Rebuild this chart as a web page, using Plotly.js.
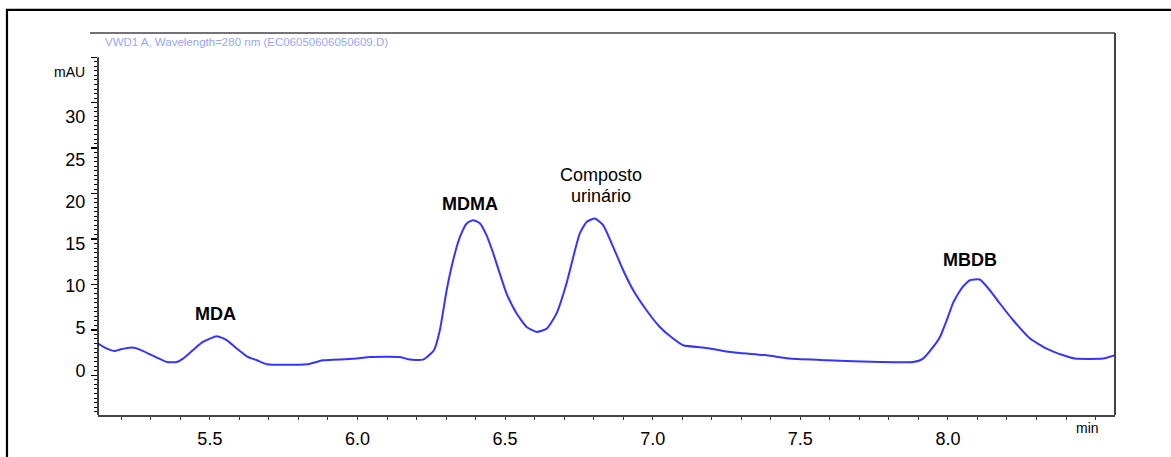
<!DOCTYPE html>
<html>
<head>
<meta charset="utf-8">
<script src="https://cdn.plot.ly/plotly-3.0.1.min.js"></script>
<style>html,body{margin:0;padding:0;background:#fff;}#chart{width:1171px;height:457px;}</style>
</head>
<body>
<div id="chart"></div>
<script>
// Retention time (min) and absorbance (mAU)
const timeMin = [5.121,5.151,5.178,5.195,5.236,5.263,5.297,5.320,5.354,5.388,5.409,5.442,5.476,5.524,5.558,5.591,5.625,5.659,5.693,5.829,5.883,5.998,6.042,6.144,6.177,6.222,6.259,6.279,6.302,6.324,6.347,6.370,6.392,6.415,6.437,6.460,6.482,6.505,6.539,6.573,6.607,6.641,6.674,6.708,6.731,6.753,6.776,6.804,6.832,6.866,6.900,6.934,6.979,7.024,7.069,7.103,7.183,7.239,7.295,7.386,7.465,7.589,7.770,7.882,7.916,7.950,7.973,7.996,8.018,8.047,8.074,8.108,8.142,8.176,8.221,8.278,8.334,8.391,8.430,8.526,8.566];
const absorbance = [3.49,2.94,2.68,2.83,3.05,2.83,2.31,1.95,1.46,1.46,1.84,2.75,3.67,4.30,3.85,2.94,2.09,1.65,1.21,1.21,1.65,1.84,2.02,2.02,1.73,1.73,2.75,4.96,9.36,12.66,15.23,16.71,17.07,16.71,15.42,13.40,11.20,9.00,6.79,5.32,4.77,5.14,6.79,10.10,13.03,15.61,16.88,17.26,16.52,14.13,11.56,9.36,7.16,5.32,4.04,3.30,3.01,2.68,2.46,2.20,1.84,1.65,1.46,1.46,1.84,3.12,4.22,6.06,8.00,9.60,10.46,10.54,9.36,7.90,6.06,4.04,2.94,2.20,1.84,1.84,2.20];

const xTickVals = [5.5,6.0,6.5,7.0,7.5,8.0];
const xTickText = ["5.5","6.0","6.5","7.0","7.5","8.0"];
const yTickVals = [0,5,10,15,20,25,30,35];
const yLabelVals = [0,5,10,15,20,25,30];
const yLabelText = ["0","5","10","15","20","25","30"];

const peakNames = ["MDA","MDMA","Composto","urinário","MBDB"];
const peakTimes = [5.520,6.381,6.824,6.824,8.074];
const peakLabelY = [6.72,18.83,22.03,19.71,12.67];
const peakBold = [true,true,false,false,true];

const Y_MIN = -4.37, Y_MAX = 37.67, Y_AXIS_TOP = 35;
// the printed tick labels sit on a slightly compressed scale relative to the tick marks
const Y_LABEL_MIN = -5.30, Y_LABEL_MAX = 39.96;
const X_MIN = 5.121, X_MAX = 8.566;

const yMinor = [];
for (let v = -4; v <= Y_AXIS_TOP + 1e-9; v += 0.5) yMinor.push(+v.toFixed(1));

const FONT = "Liberation Sans, Arial, sans-serif";

const annotations = peakNames.map((n,i)=>({
  x: peakTimes[i], y: peakLabelY[i], xref:'x', yref:'y',
  text: peakBold[i] ? '<b>'+n+'</b>' : n, showarrow:false,
  font:{family:FONT,size:18,color:'#000'}, xanchor:'center', yanchor:'middle'
}));
annotations.push({x:-0.0285,y:0.8978,xref:'paper',yref:'paper',text:'mAU',showarrow:false,
  font:{family:FONT,size:14,color:'#000'},xanchor:'center',yanchor:'middle'});
annotations.push({x:0.9725,y:-0.0348,xref:'paper',yref:'paper',text:'min',showarrow:false,
  font:{family:FONT,size:14,color:'#000'},xanchor:'center',yanchor:'middle'});
annotations.push({x:0.005,y:0.976,xref:'paper',yref:'paper',
  text:'VWD1 A, Wavelength=280 nm (EC06050606050609.D)',showarrow:false,
  font:{family:FONT,size:11.5,color:'#98a6f4'},xanchor:'left',yanchor:'middle'});

const trace = {x: timeMin, y: absorbance, type:'scatter', mode:'lines',
  line:{color:'#3535ff', width:2, shape:'spline', smoothing:0.5}, hoverinfo:'skip'};
const labelAxisTrace = {x:[null], y:[null], type:'scatter', mode:'lines', yaxis:'y2', hoverinfo:'skip', showlegend:false};

const layout = {
  width:1171, height:457,
  margin:{l:98, r:56, t:33, b:42, pad:0},
  paper_bgcolor:'#fff', plot_bgcolor:'#fff',
  showlegend:false,
  font:{family:FONT, color:'#000'},
  xaxis:{range:[X_MIN,X_MAX], showgrid:false, zeroline:false,
    showline:true, linecolor:'#444', linewidth:2,
    tickmode:'array', tickvals:xTickVals, ticktext:xTickText,
    ticks:'outside', ticklen:3, tickwidth:1, tickcolor:'#333',
    tickfont:{family:FONT,size:18,color:'#000'}, ticklabelstandoff:3,
    minor:{dtick:0.1, tick0:5.0, ticks:'outside', ticklen:3, tickcolor:'#333', tickwidth:1, showgrid:false}},
  yaxis:{range:[Y_MIN,Y_MAX], showgrid:false, zeroline:false, showline:false,
    tickmode:'array', tickvals:yTickVals, showticklabels:false,
    ticks:'outside', ticklen:6, tickwidth:1.5, tickcolor:'#000',
    minor:{tickmode:'array', tickvals:yMinor, ticks:'outside', ticklen:3, tickcolor:'#000', tickwidth:1, showgrid:false}},
  yaxis2:{overlaying:'y', side:'left', range:[Y_LABEL_MIN,Y_LABEL_MAX], showgrid:false, zeroline:false, showline:false,
    tickmode:'array', tickvals:yLabelVals, ticktext:yLabelText, ticks:'outside', ticklen:5, tickcolor:'rgba(0,0,0,0)',
    tickfont:{family:FONT,size:18,color:'#000'}, ticklabelstandoff:3},
  shapes:[
    {type:'line', xref:'paper', yref:'y', x0:0, x1:0, y0:Y_MIN, y1:Y_AXIS_TOP, line:{color:'#000', width:1.5}},
    {type:'line', xref:'paper', yref:'paper', x0:-0.0079, x1:1, y0:1, y1:1, line:{color:'#444', width:1.5}},
    {type:'line', xref:'paper', yref:'paper', x0:1, x1:1, y0:0, y1:1, line:{color:'#444', width:2}},
    {type:'rect', xref:'paper', yref:'paper', x0:-0.0895, x1:1.07, y0:-0.2, y1:1.0603, line:{color:'#000', width:2.2}, fillcolor:'rgba(0,0,0,0)'}
  ],
  annotations: annotations
};

Plotly.newPlot('chart',[trace,labelAxisTrace],layout,{displayModeBar:false, staticPlot:true});
</script>
</body>
</html>
